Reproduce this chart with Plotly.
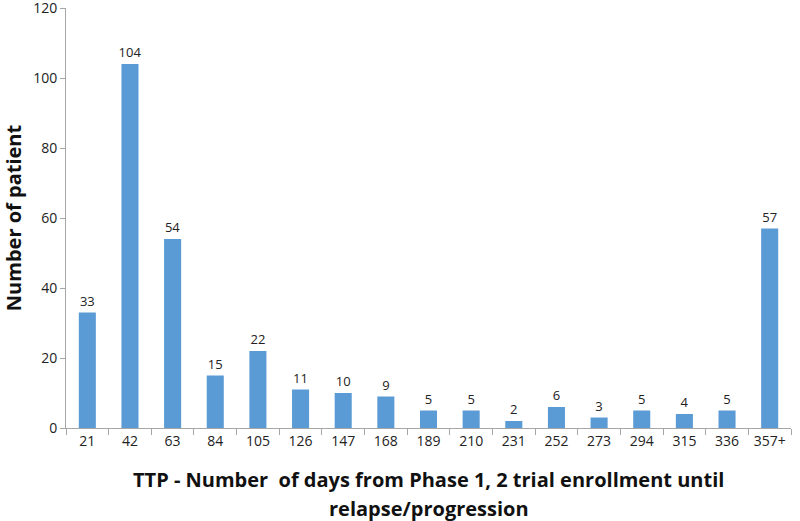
import plotly.graph_objects as go

categories = ["21", "42", "63", "84", "105", "126", "147", "168", "189", "210",
              "231", "252", "273", "294", "315", "336", "357+"]
patients = [33, 104, 54, 15, 22, 11, 10, 9, 5, 5, 2, 6, 3, 5, 4, 5, 57]
y_ticks = [0, 20, 40, 60, 80, 100, 120]

FONT = "Open Sans, Liberation Sans, sans-serif"

fig = go.Figure(go.Bar(
    x=categories, y=patients,
    marker=dict(color="#5B9BD5", line=dict(width=0)),
    text=[str(v) for v in patients], textposition="outside",
    textfont=dict(family=FONT, size=13, color="#222222"),
    constraintext="none", cliponaxis=False,
))

fig.update_layout(
    width=800, height=521,
    margin=dict(l=66, r=9, t=8, b=93, autoexpand=False),
    paper_bgcolor="white", plot_bgcolor="white",
    bargap=0.6, showlegend=False,
    font=dict(family=FONT, color="#222222"),
    annotations=[
        dict(text="<b>TTP - Number  of days from Phase 1, 2 trial enrollment until</b>",
             x=0.5, y=0, xref="paper", yref="paper", xanchor="center", yanchor="middle",
             yshift=-51, showarrow=False, font=dict(size=20, color="#111111", family=FONT)),
        dict(text="<b>relapse/progression</b>",
             x=0.5, y=0, xref="paper", yref="paper", xanchor="center", yanchor="middle",
             yshift=-80, showarrow=False, font=dict(size=20, color="#111111", family=FONT)),
    ],
)
fig.update_xaxes(
    type="category", tickson="boundaries", ticks="outside", ticklen=6,
    tickcolor="#A6A6A6", showline=True, linecolor="#A6A6A6", linewidth=1,
    showgrid=False, tickfont=dict(size=14), automargin=False,
    range=[-0.5, 16.5],
)
fig.update_yaxes(
    range=[0, 120], tickmode="array", tickvals=y_ticks,
    ticktext=[str(v) for v in y_ticks], ticks="outside", ticklen=5,
    tickcolor="#A6A6A6", showline=True, linecolor="#A6A6A6", linewidth=1,
    showgrid=False, zeroline=False, tickfont=dict(size=14), automargin=False,
    ticklabeloverflow="allow",
    title=dict(text="<b>Number of patient</b>", font=dict(size=20, color="#111111"), standoff=14),
)

fig.write_html("out.html", config={"displayModeBar": False},
               post_script="document.body.style.margin='0';document.body.style.padding='0';")
